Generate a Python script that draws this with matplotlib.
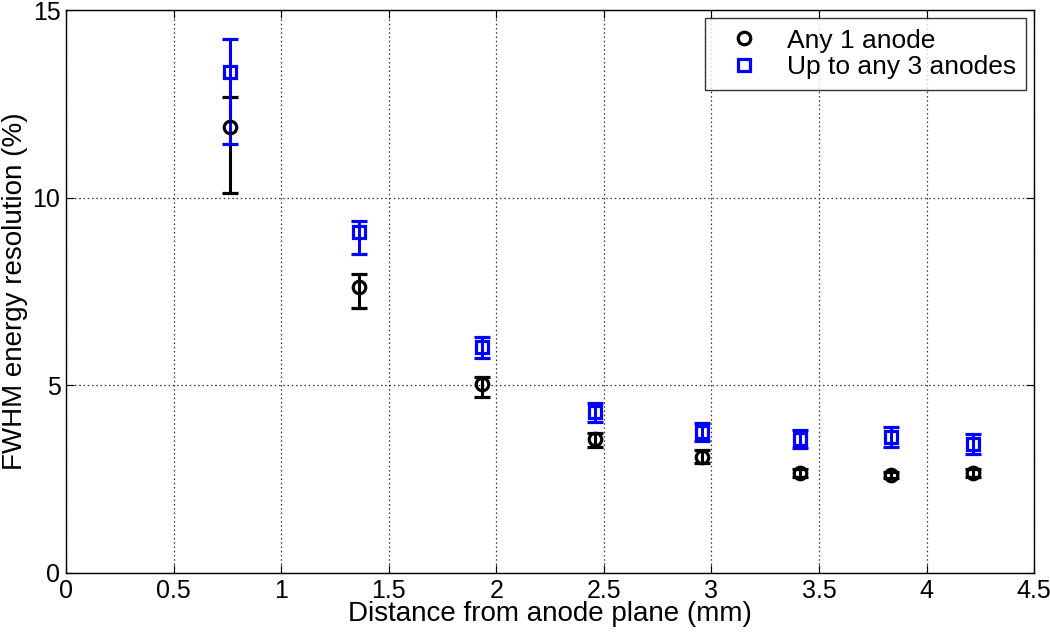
import matplotlib
matplotlib.use("Agg")
import matplotlib.pyplot as plt

plt.rcParams['font.family'] = ['Liberation Sans', 'DejaVu Sans']

distance = [0.762, 1.362, 1.934, 2.46, 2.957, 3.41, 3.835, 4.217]

any1 = [11.88, 7.62, 5.04, 3.56, 3.10, 2.66, 2.61, 2.66]
any1_err_lo = [1.75, 0.56, 0.35, 0.20, 0.17, 0.10, 0.08, 0.10]
any1_err_hi = [0.80, 0.35, 0.18, 0.17, 0.18, 0.10, 0.08, 0.10]

any3 = [13.35, 9.09, 6.02, 4.29, 3.77, 3.57, 3.62, 3.45]
any3_err_lo = [1.92, 0.59, 0.29, 0.27, 0.25, 0.24, 0.26, 0.28]
any3_err_hi = [0.88, 0.29, 0.27, 0.24, 0.23, 0.24, 0.27, 0.25]

fig = plt.figure(figsize=(10.5, 6.37), dpi=100)
ax = fig.add_axes([0.0629, 0.1005, 0.922, 0.8835])

ax.errorbar(distance, any1, yerr=[any1_err_lo, any1_err_hi], fmt='o', color='black',
            mfc='none', mec='black', ms=9, mew=2.3, elinewidth=2.2, capsize=6, capthick=2.2,
            label='Any 1 anode')
ax.errorbar(distance, any3, yerr=[any3_err_lo, any3_err_hi], fmt='s', color='blue',
            mfc='none', mec='blue', ms=8, mew=2.3, elinewidth=2.2, capsize=6, capthick=2.2,
            label='Up to any 3 anodes')

ax.set_xlim(0, 4.5)
ax.set_ylim(0, 15)
ax.set_xticks([0, 0.5, 1, 1.5, 2, 2.5, 3, 3.5, 4, 4.5])
ax.set_xticklabels(['0', '0.5', '1', '1.5', '2', '2.5', '3', '3.5', '4', '4.5'])
ax.set_yticks([0, 5, 10, 15])
ax.grid(True, color='#333333', linestyle=(0, (1.2, 2.2)), linewidth=0.9)
ax.tick_params(direction='in', labelsize=18, length=6, top=True, right=True, pad=4)
for s in ax.spines.values():
    s.set_linewidth(1.0)

ax.set_xlabel('Distance from anode plane (mm)', fontsize=20, labelpad=-1)
ax.set_ylabel('FWHM energy resolution (%)', fontsize=20, labelpad=3)

h, l = ax.get_legend_handles_labels()
handles = [hh[0] for hh in h]
leg = ax.legend(handles, l, loc='upper right', fontsize=19, frameon=True, fancybox=False,
                edgecolor='black', borderpad=0.4, handletextpad=0.5, labelspacing=0.1,
                handlelength=2.2, borderaxespad=0.3)
leg.get_frame().set_linewidth(1.0)

fig.savefig('out.png', dpi=100)
